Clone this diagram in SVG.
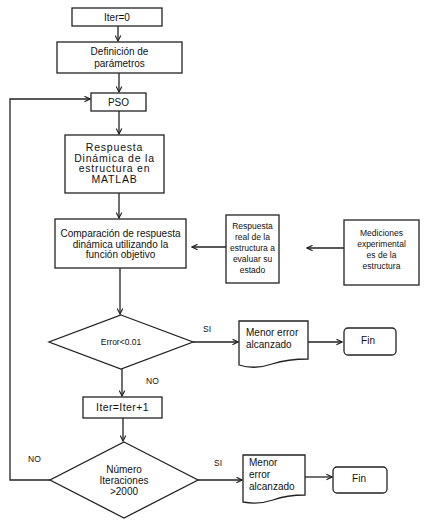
<svg xmlns="http://www.w3.org/2000/svg" width="428" height="525" viewBox="0 0 428 525">
<defs>
<style>
.n{fill:#fff;stroke:#222;stroke-width:1.3}
.c{fill:none;stroke:#222;stroke-width:1.3}
text{font-family:"Liberation Sans",Arial,sans-serif;font-size:10px;fill:#111}
.m{text-anchor:middle}
.s{font-size:8.5px}
.w{font-size:10.5px;letter-spacing:0.8px}
</style>
<marker id="a" viewBox="0 0 10 10" refX="9" refY="5" markerWidth="7" markerHeight="7" orient="auto" markerUnits="userSpaceOnUse">
<path d="M1,1 L9,5 L1,9" fill="none" stroke="#222" stroke-width="1.6"/>
</marker>
</defs>
<rect width="428" height="525" fill="#fff"/>
<g id="connectors">
<path class="c" d="M118,26 V41" marker-end="url(#a)"/>
<path class="c" d="M119,73 V92" marker-end="url(#a)"/>
<path class="c" d="M119,111 V134" marker-end="url(#a)"/>
<path class="c" d="M119,193 V218" marker-end="url(#a)"/>
<path class="c" d="M120,268 V314" marker-end="url(#a)"/>
<path class="c" d="M344,248 H307" marker-end="url(#a)"/>
<path class="c" d="M226,247 H192" marker-end="url(#a)"/>
<path class="c" d="M193,342 H238" marker-end="url(#a)"/>
<path class="c" d="M308,342 H342" marker-end="url(#a)"/>
<path class="c" d="M122,369 V396" marker-end="url(#a)"/>
<path class="c" d="M123,418 V441" marker-end="url(#a)"/>
<path class="c" d="M198,480 H242" marker-end="url(#a)"/>
<path class="c" d="M305,477 H332" marker-end="url(#a)"/>
<path class="c" d="M50,480 H10 V99 H90" marker-end="url(#a)"/>
<text class="s" x="203" y="332">SI</text>
<text class="s" x="146" y="384">NO</text>
<text class="s" x="214" y="466">SI</text>
<text class="s" x="28" y="462">NO</text>
</g>
<g id="iter0"><rect class="n" x="72" y="8" width="90" height="18"/><text class="m" x="117" y="20.5">Iter=0</text></g>
<g id="definicion"><rect class="n" x="57" y="42" width="125" height="31"/><text class="m" x="119.5" y="55">Definición de</text><text class="m" x="119.5" y="67">parámetros</text></g>
<g id="pso"><rect class="n" x="91" y="93" width="55" height="18"/><text class="m" x="118.5" y="105.5">PSO</text></g>
<g id="respuesta-dinamica"><rect class="n" x="65" y="135" width="99" height="58"/><text class="m w" x="114.5" y="151">Respuesta</text><text class="m w" x="114.5" y="161.5">Dinámica de la</text><text class="m w" x="114.5" y="172">estructura en</text><text class="m w" x="114.5" y="183">MATLAB</text></g>
<g id="comparacion"><rect class="n" x="55" y="219" width="131" height="49"/><text class="m" x="120.5" y="237">Comparación de respuesta</text><text class="m" x="120.5" y="247.5">dinámica utilizando  la</text><text class="m" x="120.5" y="258">función objetivo</text></g>
<g id="respuesta-real"><rect class="n" x="226" y="215" width="53" height="68"/><text class="m s" x="252.5" y="229">Respuesta</text><text class="m s" x="252.5" y="240">real de la</text><text class="m s" x="252.5" y="251">estructura a</text><text class="m s" x="252.5" y="262">evaluar su</text><text class="m s" x="252.5" y="273">estado</text></g>
<g id="mediciones"><rect class="n" x="344" y="220" width="75" height="65"/><text class="m s" x="381.5" y="236">Mediciones</text><text class="m s" x="381.5" y="247">experimental</text><text class="m s" x="381.5" y="258">es de la</text><text class="m s" x="381.5" y="269">estructura</text></g>
<g id="error"><polygon class="n" points="121,315 193,342 121,369 49,342"/><text class="m s" x="121" y="345">Error&lt;0.01</text></g>
<g id="menor-error-1"><path class="n" d="M239,321 H308 V359 Q288,359 272,364 Q255,370 239,365 Z"/><text x="246" y="336">Menor error</text><text x="246" y="348">alcanzado</text></g>
<g id="fin-1"><rect class="n" x="344" y="328" width="52" height="27" rx="4"/><text class="m" x="368" y="344">Fin</text></g>
<g id="iter-inc"><rect class="n" x="83" y="397" width="79" height="21"/><text class="m" x="122.5" y="411" style="font-size:10.5px;letter-spacing:0.4px">Iter=Iter+1</text></g>
<g id="numero-iteraciones"><polygon class="n" points="124,442 198,480 124,518 50,480"/><text class="m" x="124" y="472.5">Número</text><text class="m" x="124" y="483.5">Iteraciones</text><text class="m" x="124" y="494.5">&gt;2000</text></g>
<g id="menor-error-2"><path class="n" d="M243,455 H305 V495 Q287,495 273,500 Q258,505 243,502 Z"/><text x="249" y="466">Menor</text><text x="249" y="478">error</text><text x="249" y="490">alcanzado</text></g>
<g id="fin-2"><rect class="n" x="333" y="467" width="54" height="26" rx="4"/><text class="m" x="359" y="481.5">Fin</text></g>
</svg>
